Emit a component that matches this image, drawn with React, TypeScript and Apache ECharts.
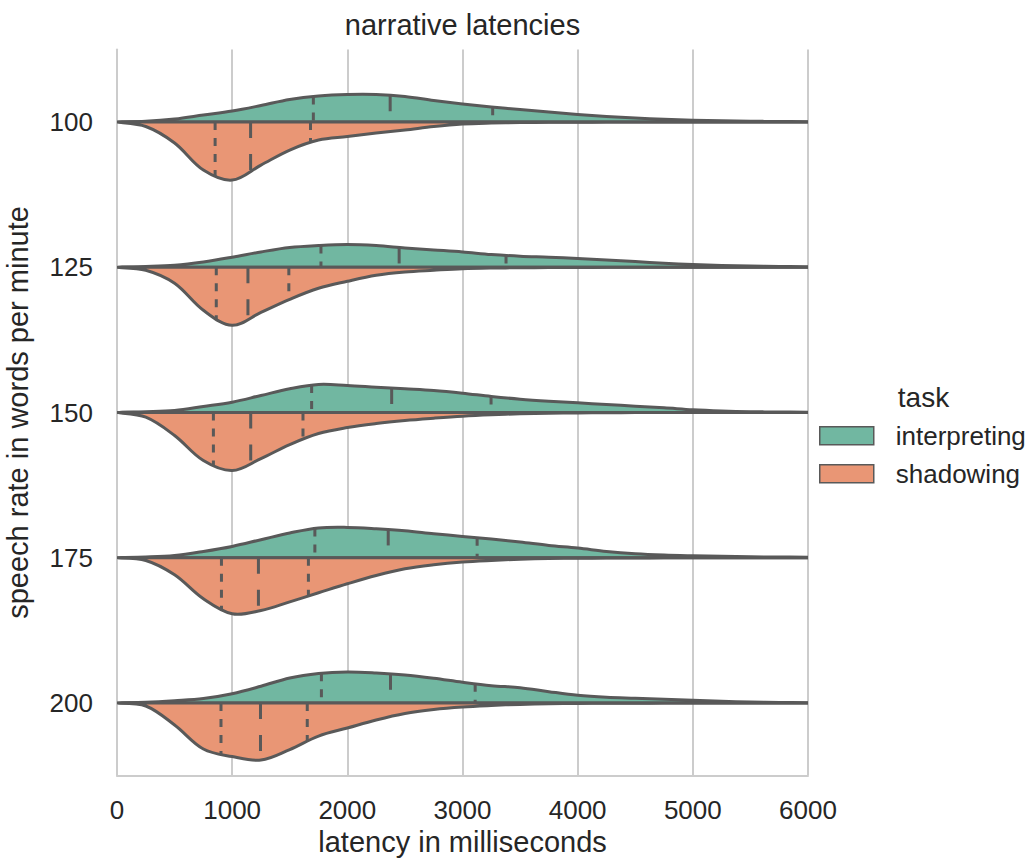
import React, { useEffect, useRef } from 'react';
import * as echarts from 'echarts';

// ---- data ----
const SPEECH_RATES = ['100', '125', '150', '175', '200'];
const TASKS = ['interpreting', 'shadowing'];
const X_TICK_MIN = 0;
const X_TICK_MAX = 6000;
const X_TICK_STEP = 1000;

// latency grid (ms) at which the half-violin widths were read
const LATENCY_GRID = [0, 250, 500, 750, 1000, 1250, 1500, 1750, 2000, 2250, 2500, 2750, 3000,
  3250, 3500, 3750, 4000, 4250, 4500, 4750, 5000, 5250, 5500, 5750, 6000];

// relative kernel density (common scale) – interpreting
const INTERP_100 = [0, 0.7, 3, 7, 11, 16.5, 22.5, 26, 27.5, 27.5, 25.5, 21.5, 18, 15, 12.5, 10, 7.5, 5.5, 4, 2.7, 1.8, 1.2, 0.8, 0.5, 0.3];
const INTERP_125 = [0, 0.7, 2, 5.3, 10, 15.3, 19.7, 21.7, 22.7, 21.7, 19.3, 17.3, 15.3, 12.7, 11, 10, 8.7, 7.3, 5.7, 4, 2.7, 1.8, 1.2, 0.8, 0.5];
const INTERP_150 = [0, 0.7, 2, 6, 10.3, 17, 23.7, 28, 27, 25.3, 23.7, 22, 19.3, 16, 13.3, 11.3, 9.7, 8, 6.3, 4.7, 2.7, 1.5, 0.8, 0.5, 0.3];
const INTERP_175 = [0, 0.7, 2.3, 6.3, 11.3, 18, 24.7, 29.7, 30.3, 29, 27, 24, 21.3, 18.7, 15.7, 12.3, 9.7, 6.3, 4, 2.7, 2, 1.5, 1, 0.7, 0.5];
const INTERP_200 = [0, 0.7, 2.3, 4.5, 9.3, 16.7, 25, 29.5, 31, 30, 28, 24.7, 20.7, 17.3, 15.3, 11.3, 7.7, 5.7, 4.7, 3.7, 2.7, 1.7, 1, 0.5, 0.3];

// relative kernel density (common scale) – shadowing
const SHADOW_100 = [0, 4.5, 21, 48, 58, 43, 28, 18, 14.5, 11, 8, 4.5, 2, 1, 0.5, 0.3, 0.2, 0.1, 0, 0, 0, 0, 0, 0, 0];
const SHADOW_125 = [0, 3, 16, 43, 58, 45, 32, 21, 14, 8, 4.7, 3, 1.5, 0.8, 0.5, 0.3, 0.2, 0.1, 0, 0, 0, 0, 0, 0, 0];
const SHADOW_150 = [0, 4.7, 23, 48, 58, 46, 32, 21, 15, 11, 8, 5.7, 3.7, 2.3, 1.3, 0.7, 0.4, 0.2, 0.1, 0, 0, 0, 0, 0, 0];
const SHADOW_175 = [0, 2.7, 17, 41, 56, 52.7, 44, 35, 26, 17.7, 11, 7, 4.3, 2.7, 1.5, 0.8, 0.5, 0.3, 0.2, 0.1, 0, 0, 0, 0, 0];
const SHADOW_200 = [0, 3, 22, 46, 53.5, 57, 46.5, 33, 25, 17, 10.5, 6.5, 4, 2.5, 1.4, 0.8, 0.5, 0.3, 0.2, 0.1, 0, 0, 0, 0, 0];

// quartiles (ms) per speech rate
const INTERP_Q25 = [1705, 1771, 1690, 1718, 1775];
const INTERP_MEDIAN = [2372, 2450, 2385, 2355, 2375];
const INTERP_Q75 = [3262, 3378, 3248, 3127, 3110];
const SHADOW_Q25 = [852, 862, 837, 907, 903];
const SHADOW_MEDIAN = [1160, 1137, 1161, 1228, 1246];
const SHADOW_Q75 = [1680, 1492, 1615, 1662, 1652];

// ---- styles ----
const GREEN = '#71b7a1';
const ORANGE = '#e99675';
const EDGE = '#595959';
const TEXT = '#262626';
const GRIDC = '#cccccc';
const FONT = '"Liberation Sans", Arial, Helvetica, sans-serif';

const INTERP_DENS = [INTERP_100, INTERP_125, INTERP_150, INTERP_175, INTERP_200];
const SHADOW_DENS = [SHADOW_100, SHADOW_125, SHADOW_150, SHADOW_175, SHADOW_200];
const MAX_DENSITY = Math.max(...INTERP_DENS.flat(), ...SHADOW_DENS.flat());

function densityAt(d: number[], v: number): number {
  let j = 0;
  while (j < LATENCY_GRID.length - 2 && LATENCY_GRID[j + 1] <= v) j++;
  const t = (v - LATENCY_GRID[j]) / (LATENCY_GRID[j + 1] - LATENCY_GRID[j]);
  const p0 = d[Math.max(j - 1, 0)];
  const p1 = d[j];
  const p2 = d[j + 1];
  const p3 = d[Math.min(j + 2, d.length - 1)];
  return 0.5 * (2 * p1 + (-p0 + p2) * t + (2 * p0 - 5 * p1 + 4 * p2 - p3) * t * t +
    (-p0 + 3 * p1 - 3 * p2 + p3) * t * t * t);
}

function makeRender(dens: number[][], q25: number[], q50: number[], q75: number[], color: string, up: boolean) {
  return (params: any, api: any) => {
    const i = params.dataIndex;
    const band = api.size([0, 1])[1];
    const base = api.coord([0, i])[1];
    const k = (0.4 * band) / MAX_DENSITY;
    const sign = up ? -1 : 1;
    const d = dens[i];
    const curve = LATENCY_GRID.map((v, j) => [api.coord([v, i])[0], base + sign * d[j] * k]);
    const baseline = LATENCY_GRID.slice(1).reverse().map((v) => [api.coord([v, i])[0], base]);
    const children: any[] = [
      {
        type: 'polygon',
        shape: { points: curve.concat(baseline), smooth: 0.35 },
        style: { fill: color, stroke: EDGE, lineWidth: 3, lineJoin: 'round' },
      },
    ];
    [q25[i], q50[i], q75[i]].forEach((q, qi) => {
      const h = densityAt(d, q) * k;
      const x = api.coord([q, i])[0];
      const dash = qi === 1 ? [16, 16] : [8, 8];
      children.push({
        type: 'line',
        shape: up ? { x1: x, y1: base - h, x2: x, y2: base } : { x1: x, y1: base, x2: x, y2: base + h },
        style: { stroke: EDGE, lineWidth: 3, lineDash: dash, lineCap: 'butt' },
      });
    });
    return { type: 'group', children };
  };
}

export default function App() {
  const ref = useRef<HTMLDivElement>(null);
  useEffect(() => {
    document.body.style.margin = '0';
    if (!ref.current) return;
    const chart = echarts.init(ref.current, undefined, { renderer: 'svg' });
    const catData = SPEECH_RATES.map((_, i) => ({ value: [0, i] }));
    chart.setOption({
      animation: false,
      backgroundColor: '#ffffff',
      textStyle: { fontFamily: FONT },
      grid: { left: 117, right: 226, top: 49.4, height: 726.2, containLabel: false, outerBoundsMode: 'none' },
      xAxis: {
        type: 'value',
        min: X_TICK_MIN,
        max: X_TICK_MAX,
        interval: X_TICK_STEP,
        name: 'latency in milliseconds',
        nameLocation: 'middle',
        nameGap: 51,
        nameTextStyle: { fontSize: 29, color: TEXT, fontFamily: FONT },
        axisLine: { show: true, lineStyle: { color: GRIDC, width: 2 } },
        axisTick: { show: false },
        axisLabel: { fontSize: 26, color: TEXT, margin: 21, fontFamily: FONT, formatter: (v: number) => String(v) },
        splitLine: { show: true, lineStyle: { color: GRIDC, width: 2 } },
      },
      yAxis: {
        type: 'category',
        data: SPEECH_RATES,
        inverse: true,
        name: 'speech rate in words per minute',
        nameLocation: 'middle',
        nameGap: 85,
        nameTextStyle: { fontSize: 29, color: TEXT, fontFamily: FONT },
        axisLine: { show: true, lineStyle: { color: GRIDC, width: 2 } },
        axisTick: { show: false },
        axisLabel: { fontSize: 26, color: TEXT, margin: 24, fontFamily: FONT },
        splitLine: { show: false },
      },
      legend: {
        orient: 'vertical',
        left: 819,
        top: 422.8,
        padding: 0,
        itemWidth: 54,
        itemHeight: 18,
        itemGap: 12,
        icon: 'rect',
        itemStyle: { borderColor: EDGE, borderWidth: 1.5 },
        textStyle: { fontSize: 26, lineHeight: 26, color: TEXT, fontFamily: FONT, padding: [0, 0, 0, 17] },
        data: TASKS,
      },
      graphic: [
        {
          type: 'text',
          x: 462.5,
          y: 10,
          style: { text: 'narrative latencies', fontSize: 29, fill: TEXT, fontFamily: FONT, align: 'center', verticalAlign: 'top' },
        },
        {
          type: 'text',
          x: 923.5,
          y: 383,
          style: { text: 'task', fontSize: 28, fill: TEXT, fontFamily: FONT, align: 'center', verticalAlign: 'top' },
        },
      ],
      series: [
        {
          name: TASKS[0],
          type: 'custom',
          itemStyle: { color: GREEN },
          encode: { x: 0, y: 1 },
          clip: true,
          renderItem: makeRender(INTERP_DENS, INTERP_Q25, INTERP_MEDIAN, INTERP_Q75, GREEN, true),
          data: catData,
        },
        {
          name: TASKS[1],
          type: 'custom',
          itemStyle: { color: ORANGE },
          encode: { x: 0, y: 1 },
          clip: true,
          renderItem: makeRender(SHADOW_DENS, SHADOW_Q25, SHADOW_MEDIAN, SHADOW_Q75, ORANGE, false),
          data: catData,
        },
      ],
    });
    return () => chart.dispose();
  }, []);
  return <div ref={ref} style={{ width: 1034, height: 865 }} />;
}
